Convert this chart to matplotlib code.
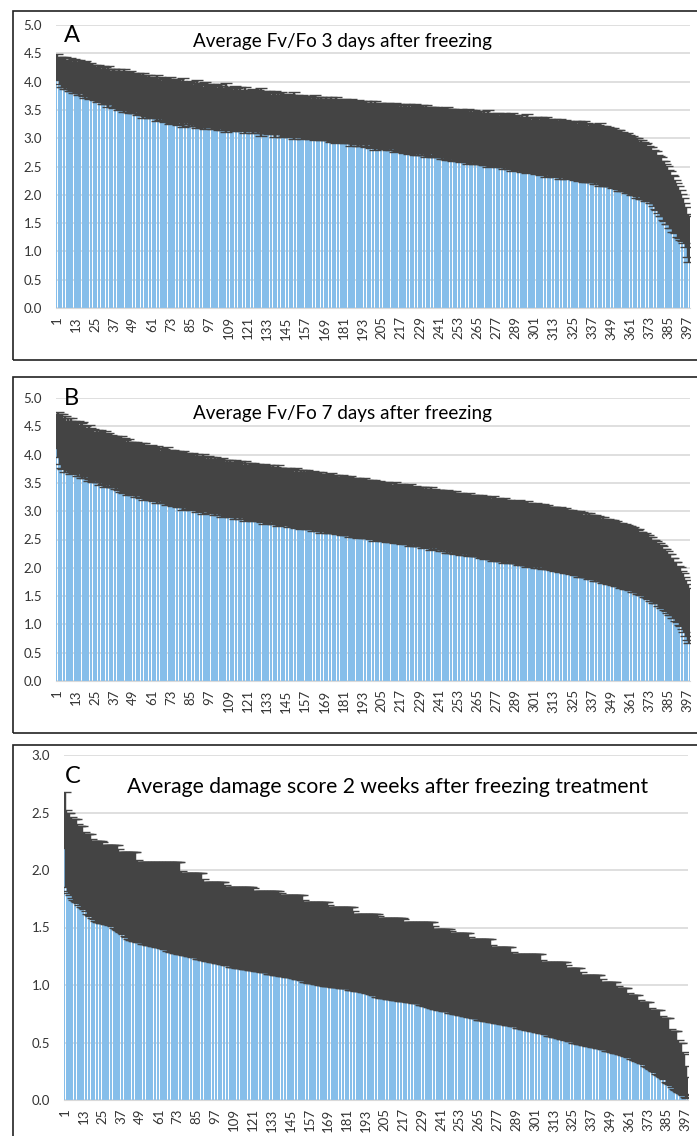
import matplotlib
matplotlib.use('Agg')
import matplotlib.pyplot as plt
import numpy as np
from matplotlib.patches import Rectangle

# ---------------- data ----------------
xtick_labels = [str(v) for v in range(1, 398, 12)]

a_mean = [
 4.27,4.22,4.19,4.17,4.16,4.15,4.14,4.13,4.12,4.11,4.10,4.10,
 4.09,4.08,4.08,4.07,4.06,4.05,4.04,4.03,4.02,4.01,4.00,3.99,
 3.98,3.97,3.97,3.96,3.95,3.94,3.93,3.92,3.92,3.91,3.90,3.89,
 3.88,3.87,3.87,3.86,3.85,3.85,3.84,3.83,3.83,3.82,3.81,3.81,
 3.80,3.79,3.79,3.78,3.77,3.77,3.76,3.75,3.75,3.74,3.73,3.73,
 3.72,3.72,3.71,3.71,3.70,3.70,3.69,3.69,3.68,3.68,3.67,3.67,
 3.66,3.66,3.65,3.65,3.64,3.64,3.63,3.63,3.63,3.62,3.62,3.61,
 3.61,3.61,3.60,3.60,3.60,3.59,3.59,3.59,3.58,3.58,3.58,3.57,
 3.57,3.57,3.56,3.56,3.56,3.55,3.55,3.55,3.54,3.54,3.54,3.53,
 3.53,3.53,3.52,3.52,3.52,3.51,3.51,3.51,3.50,3.50,3.50,3.49,
 3.49,3.49,3.48,3.48,3.48,3.47,3.47,3.47,3.46,3.46,3.46,3.45,
 3.45,3.45,3.44,3.44,3.44,3.43,3.43,3.43,3.42,3.42,3.42,3.41,
 3.41,3.41,3.40,3.40,3.40,3.40,3.39,3.39,3.39,3.38,3.38,3.38,
 3.38,3.37,3.37,3.37,3.36,3.36,3.36,3.35,3.35,3.35,3.34,3.34,
 3.34,3.34,3.33,3.33,3.33,3.32,3.32,3.32,3.31,3.31,3.31,3.30,
 3.30,3.30,3.29,3.29,3.29,3.28,3.28,3.28,3.27,3.27,3.27,3.26,
 3.26,3.26,3.25,3.25,3.25,3.24,3.24,3.24,3.23,3.23,3.23,3.22,
 3.22,3.22,3.21,3.21,3.21,3.20,3.20,3.20,3.19,3.19,3.19,3.18,
 3.18,3.18,3.17,3.17,3.17,3.16,3.16,3.16,3.15,3.15,3.15,3.14,
 3.14,3.14,3.13,3.13,3.13,3.12,3.12,3.12,3.11,3.11,3.11,3.10,
 3.10,3.10,3.09,3.09,3.08,3.08,3.08,3.07,3.07,3.06,3.06,3.06,
 3.05,3.05,3.05,3.04,3.04,3.04,3.03,3.03,3.03,3.02,3.02,3.01,
 3.01,3.01,3.00,3.00,3.00,2.99,2.99,2.99,2.98,2.98,2.98,2.97,
 2.97,2.97,2.96,2.96,2.95,2.95,2.95,2.94,2.94,2.93,2.93,2.93,
 2.92,2.92,2.91,2.91,2.91,2.90,2.90,2.90,2.89,2.89,2.88,2.88,
 2.88,2.87,2.87,2.87,2.86,2.86,2.85,2.85,2.85,2.84,2.84,2.83,
 2.83,2.83,2.82,2.82,2.81,2.81,2.81,2.80,2.80,2.80,2.79,2.79,
 2.79,2.78,2.78,2.77,2.77,2.77,2.76,2.76,2.75,2.75,2.74,2.74,
 2.74,2.73,2.72,2.72,2.71,2.71,2.70,2.69,2.69,2.68,2.67,2.67,
 2.66,2.65,2.64,2.63,2.62,2.61,2.60,2.59,2.58,2.57,2.56,2.55,
 2.53,2.52,2.51,2.50,2.48,2.47,2.46,2.44,2.43,2.41,2.40,2.38,
 2.37,2.35,2.32,2.29,2.26,2.22,2.18,2.14,2.11,2.08,2.04,2.00,
 1.96,1.92,1.88,1.84,1.80,1.76,1.71,1.66,1.61,1.56,1.50,1.43,
 1.28,1.22]

a_err = [
 .22,.20,.24,.27,.25,.28,.23,.26,.29,.27,.25,.30,
 .29,.26,.31,.28,.27,.30,.33,.28,.26,.31,.29,.27,
 .31,.29,.33,.30,.28,.34,.32,.30,.36,.31,.29,.33,
 .35,.32,.30,.36,.33,.31,.38,.34,.32,.35,.37,.33,
 .36,.34,.31,.37,.35,.33,.40,.34,.36,.32,.38,.35,
 .34,.37,.33,.41,.35,.38,.32,.36,.39,.34,.37,.42,
 .39,.35,.37,.33,.40,.36,.38,.44,.35,.37,.34,.39,
 .36,.40,.34,.38,.42,.35,.37,.39,.33,.41,.36,.38,
 .37,.35,.40,.36,.38,.34,.41,.37,.39,.35,.43,.36,
 .35,.38,.36,.34,.40,.37,.35,.39,.33,.36,.41,.35,
 .35,.37,.34,.39,.36,.33,.38,.35,.42,.34,.37,.36,
 .34,.38,.35,.33,.37,.40,.34,.36,.35,.39,.33,.37,
 .35,.33,.38,.36,.34,.41,.35,.37,.33,.36,.39,.34,
 .33,.37,.35,.38,.34,.36,.40,.35,.37,.34,.38,.36,
 .35,.38,.36,.34,.39,.37,.35,.41,.36,.38,.34,.37,
 .36,.39,.35,.38,.37,.42,.36,.38,.35,.40,.37,.39,
 .37,.35,.40,.38,.36,.41,.39,.37,.43,.38,.36,.40,
 .37,.41,.39,.36,.42,.38,.40,.37,.44,.39,.41,.38,
 .40,.38,.43,.41,.39,.44,.40,.42,.38,.45,.41,.43,
 .41,.44,.40,.42,.46,.41,.43,.39,.45,.42,.44,.41,
 .43,.41,.45,.42,.44,.47,.43,.45,.41,.46,.44,.42,
 .45,.43,.47,.44,.42,.46,.49,.44,.46,.43,.48,.45,
 .44,.47,.45,.43,.48,.46,.44,.50,.45,.47,.43,.46,
 .45,.48,.44,.47,.45,.49,.46,.44,.48,.46,.51,.47,
 .46,.49,.47,.45,.50,.48,.46,.52,.47,.49,.45,.48,
 .47,.50,.48,.46,.51,.49,.47,.53,.48,.50,.46,.49,
 .48,.51,.49,.47,.53,.50,.48,.52,.49,.51,.47,.50,
 .49,.52,.50,.48,.53,.51,.49,.54,.50,.52,.48,.51,
 .51,.49,.53,.50,.52,.55,.51,.49,.53,.50,.52,.51,
 .50,.53,.51,.49,.52,.54,.50,.52,.49,.51,.53,.50,
 .50,.52,.49,.51,.53,.50,.48,.52,.50,.49,.51,.48,
 .48,.50,.47,.49,.51,.48,.50,.52,.49,.52,.50,.51,
 .48,.50,.47,.49,.46,.44,.45,.42,.40,.38,.36,.35,
 .38,.40]

b_mean = [
 4.42,4.35,4.28,4.24,4.20,4.19,4.18,4.17,4.16,4.15,4.14,4.13,
 4.12,4.11,4.10,4.09,4.08,4.07,4.05,4.04,4.03,4.02,4.00,3.99,
 3.98,3.97,3.96,3.95,3.94,3.93,3.92,3.92,3.91,3.90,3.89,3.88,
 3.87,3.86,3.85,3.84,3.83,3.82,3.81,3.80,3.79,3.78,3.77,3.76,
 3.75,3.74,3.74,3.73,3.72,3.72,3.71,3.70,3.70,3.69,3.68,3.68,
 3.67,3.66,3.66,3.65,3.65,3.64,3.63,3.63,3.62,3.62,3.61,3.61,
 3.60,3.59,3.59,3.58,3.57,3.57,3.56,3.55,3.55,3.54,3.53,3.53,
 3.52,3.52,3.51,3.51,3.50,3.50,3.49,3.49,3.48,3.48,3.47,3.47,
 3.46,3.46,3.45,3.45,3.44,3.44,3.43,3.43,3.42,3.42,3.41,3.41,
 3.40,3.40,3.39,3.39,3.39,3.38,3.38,3.37,3.37,3.36,3.36,3.36,
 3.35,3.35,3.34,3.34,3.34,3.33,3.33,3.32,3.32,3.31,3.31,3.31,
 3.30,3.30,3.29,3.29,3.29,3.28,3.28,3.27,3.27,3.26,3.26,3.26,
 3.25,3.25,3.24,3.24,3.24,3.23,3.23,3.22,3.22,3.21,3.21,3.21,
 3.20,3.20,3.19,3.19,3.19,3.18,3.18,3.17,3.17,3.16,3.16,3.16,
 3.15,3.15,3.14,3.14,3.14,3.13,3.13,3.12,3.12,3.11,3.11,3.11,
 3.10,3.10,3.09,3.09,3.09,3.08,3.08,3.07,3.07,3.06,3.06,3.06,
 3.05,3.05,3.04,3.04,3.04,3.03,3.03,3.02,3.02,3.01,3.01,3.01,
 3.00,3.00,2.99,2.99,2.99,2.98,2.98,2.97,2.97,2.96,2.96,2.96,
 2.95,2.95,2.94,2.94,2.94,2.93,2.93,2.92,2.92,2.91,2.91,2.91,
 2.90,2.90,2.89,2.89,2.89,2.88,2.88,2.87,2.87,2.86,2.86,2.86,
 2.85,2.84,2.84,2.83,2.83,2.82,2.82,2.81,2.81,2.80,2.80,2.79,
 2.79,2.78,2.78,2.78,2.77,2.77,2.76,2.76,2.75,2.75,2.75,2.74,
 2.74,2.73,2.73,2.72,2.72,2.71,2.71,2.70,2.70,2.69,2.69,2.68,
 2.68,2.68,2.67,2.67,2.66,2.66,2.65,2.65,2.64,2.64,2.64,2.63,
 2.63,2.62,2.62,2.61,2.61,2.61,2.60,2.60,2.59,2.59,2.58,2.58,
 2.58,2.57,2.57,2.56,2.56,2.55,2.55,2.54,2.54,2.53,2.53,2.52,
 2.52,2.51,2.51,2.50,2.50,2.49,2.49,2.48,2.47,2.47,2.46,2.46,
 2.45,2.44,2.44,2.43,2.42,2.42,2.41,2.40,2.40,2.39,2.38,2.38,
 2.37,2.36,2.35,2.35,2.34,2.33,2.32,2.32,2.31,2.30,2.29,2.29,
 2.28,2.27,2.26,2.25,2.24,2.23,2.22,2.22,2.21,2.20,2.19,2.18,
 2.17,2.16,2.15,2.13,2.12,2.11,2.09,2.08,2.06,2.05,2.03,2.02,
 2.00,1.98,1.96,1.94,1.92,1.90,1.88,1.86,1.84,1.82,1.79,1.76,
 1.73,1.70,1.67,1.64,1.61,1.58,1.54,1.50,1.46,1.41,1.35,1.29,
 1.22,1.16]

b_err = [
 .30,.40,.44,.48,.45,.50,.42,.47,.44,.49,.43,.46,
 .45,.48,.43,.47,.50,.44,.46,.42,.49,.45,.43,.47,
 .42,.46,.44,.48,.43,.45,.50,.44,.47,.42,.46,.45,
 .44,.47,.42,.46,.49,.44,.48,.45,.43,.50,.46,.44,
 .47,.44,.49,.45,.43,.48,.46,.50,.44,.47,.45,.49,
 .45,.48,.44,.50,.46,.43,.49,.47,.45,.51,.46,.48,
 .45,.49,.47,.44,.50,.46,.48,.52,.45,.47,.49,.46,
 .46,.50,.47,.45,.51,.48,.46,.49,.53,.47,.45,.50,
 .46,.49,.47,.51,.48,.45,.50,.47,.52,.48,.46,.49,
 .47,.50,.48,.46,.52,.49,.47,.51,.48,.46,.53,.49,
 .47,.50,.48,.52,.49,.47,.51,.48,.46,.50,.53,.49,
 .48,.51,.49,.47,.52,.50,.48,.54,.49,.51,.47,.50,
 .50,.48,.52,.49,.51,.47,.53,.50,.48,.52,.49,.51,
 .50,.52,.48,.51,.49,.53,.50,.48,.52,.50,.54,.49,
 .50,.48,.52,.50,.53,.49,.51,.48,.52,.50,.49,.53,
 .50,.52,.49,.51,.54,.50,.48,.52,.50,.53,.49,.51,
 .50,.53,.49,.51,.48,.52,.50,.54,.51,.49,.52,.50,
 .50,.52,.49,.53,.51,.48,.52,.50,.54,.51,.49,.52,
 .50,.53,.51,.49,.52,.50,.55,.51,.49,.53,.50,.52,
 .52,.50,.54,.51,.53,.49,.52,.55,.51,.53,.50,.52,
 .52,.54,.51,.53,.50,.55,.52,.54,.51,.53,.56,.52,
 .53,.51,.55,.52,.54,.50,.53,.56,.52,.54,.51,.53,
 .54,.52,.55,.53,.51,.56,.54,.52,.55,.53,.57,.54,
 .54,.56,.52,.55,.53,.57,.54,.52,.56,.54,.53,.55,
 .55,.53,.57,.54,.56,.52,.55,.58,.54,.56,.53,.55,
 .55,.57,.54,.56,.53,.58,.55,.54,.57,.55,.53,.56,
 .55,.57,.54,.56,.58,.55,.53,.57,.55,.56,.54,.57,
 .55,.57,.54,.56,.58,.55,.57,.54,.56,.55,.58,.56,
 .56,.54,.58,.55,.57,.56,.54,.58,.56,.55,.57,.56,
 .56,.58,.55,.57,.56,.54,.58,.56,.55,.57,.56,.55,
 .56,.55,.57,.56,.54,.57,.55,.56,.54,.57,.55,.56,
 .55,.57,.54,.56,.55,.53,.56,.54,.55,.52,.54,.53,
 .52,.54,.51,.53,.50,.52,.50,.51,.49,.50,.49,.50,
 .50,.48]

# panel C: lower and upper ends of the error bars
c_low = [
 2.19,1.85,1.82,1.80,1.78,1.76,1.74,1.73,1.72,1.71,1.70,1.68,
 1.67,1.66,1.64,1.62,1.61,1.60,1.58,1.57,1.56,1.55,1.55,1.54,
 1.54,1.54,1.53,1.53,1.53,1.52,1.52,1.51,1.50,1.49,1.48,1.47,
 1.46,1.45,1.44,1.43,1.42,1.40,1.39,1.39,1.38,1.38,1.38,1.37,
 1.37,1.37,1.36,1.36,1.36,1.35,1.35,1.35,1.34,1.34,1.34,1.33,
 1.33,1.33,1.32,1.32,1.31,1.31,1.30,1.30,1.29,1.29,1.28,1.28,
 1.28,1.27,1.27,1.27,1.26,1.26,1.26,1.25,1.25,1.25,1.24,1.24,
 1.24,1.23,1.23,1.23,1.22,1.22,1.22,1.21,1.21,1.21,1.20,1.20,
 1.20,1.19,1.19,1.19,1.18,1.18,1.18,1.17,1.17,1.17,1.16,1.16,
 1.16,1.16,1.15,1.15,1.15,1.15,1.14,1.14,1.14,1.14,1.13,1.13,
 1.13,1.13,1.12,1.12,1.12,1.12,1.11,1.11,1.11,1.11,1.10,1.10,
 1.10,1.10,1.09,1.09,1.09,1.09,1.08,1.08,1.08,1.08,1.07,1.07,
 1.07,1.07,1.06,1.06,1.05,1.05,1.05,1.04,1.04,1.03,1.03,1.03,
 1.02,1.02,1.02,1.02,1.01,1.01,1.01,1.00,1.00,1.00,0.99,0.99,
 0.99,0.99,0.99,0.98,0.98,0.98,0.98,0.98,0.97,0.97,0.97,0.97,
 0.97,0.97,0.96,0.96,0.96,0.96,0.95,0.95,0.95,0.95,0.94,0.94,
 0.94,0.93,0.93,0.92,0.92,0.91,0.91,0.90,0.90,0.90,0.89,0.89,
 0.89,0.89,0.88,0.88,0.88,0.88,0.87,0.87,0.87,0.87,0.86,0.86,
 0.86,0.86,0.86,0.85,0.85,0.85,0.85,0.84,0.84,0.84,0.84,0.83,
 0.83,0.83,0.82,0.82,0.81,0.81,0.80,0.80,0.79,0.79,0.79,0.78,
 0.78,0.78,0.77,0.77,0.77,0.77,0.76,0.76,0.76,0.75,0.75,0.75,
 0.74,0.74,0.74,0.73,0.73,0.73,0.72,0.72,0.72,0.71,0.71,0.71,
 0.70,0.70,0.70,0.70,0.69,0.69,0.69,0.69,0.68,0.68,0.68,0.67,
 0.67,0.67,0.67,0.66,0.66,0.66,0.65,0.65,0.65,0.65,0.64,0.64,
 0.64,0.63,0.63,0.63,0.62,0.62,0.62,0.61,0.61,0.61,0.60,0.60,
 0.60,0.59,0.59,0.59,0.58,0.58,0.58,0.57,0.57,0.56,0.56,0.56,
 0.55,0.55,0.55,0.54,0.54,0.53,0.53,0.53,0.52,0.52,0.51,0.51,
 0.51,0.50,0.50,0.50,0.49,0.49,0.49,0.48,0.48,0.48,0.47,0.47,
 0.47,0.46,0.46,0.46,0.45,0.45,0.45,0.44,0.44,0.44,0.43,0.43,
 0.43,0.42,0.42,0.41,0.41,0.41,0.40,0.40,0.39,0.39,0.38,0.38,
 0.37,0.37,0.36,0.36,0.35,0.34,0.34,0.33,0.32,0.32,0.31,0.30,
 0.29,0.28,0.27,0.26,0.25,0.24,0.23,0.22,0.21,0.20,0.19,0.18,
 0.16,0.15,0.14,0.13,0.11,0.10,0.09,0.08,0.07,0.06,0.05,0.04,
 0.03,0.02]

c_high = [
 2.68,2.52,2.50,2.50,2.46,2.44,2.44,2.44,2.40,2.38,2.38,2.38,
 2.33,2.31,2.31,2.31,2.31,2.27,2.25,2.25,2.25,2.25,2.25,2.25,
 2.24,2.22,2.22,2.22,2.22,2.22,2.22,2.22,2.22,2.22,2.18,2.16,
 2.16,2.16,2.16,2.16,2.16,2.16,2.16,2.16,2.16,2.16,2.09,2.07,
 2.07,2.07,2.07,2.07,2.07,2.07,2.07,2.07,2.07,2.07,2.07,2.07,
 2.07,2.07,2.07,2.07,2.07,2.07,2.07,2.07,2.07,2.07,2.07,2.07,
 2.07,2.07,1.99,1.97,1.97,1.97,1.97,1.97,1.97,1.97,1.97,1.97,
 1.97,1.97,1.97,1.97,1.92,1.90,1.90,1.90,1.90,1.90,1.90,1.90,
 1.90,1.90,1.90,1.90,1.90,1.90,1.87,1.85,1.85,1.85,1.85,1.85,
 1.85,1.85,1.85,1.85,1.85,1.85,1.85,1.85,1.85,1.85,1.85,1.85,
 1.84,1.82,1.82,1.82,1.82,1.82,1.82,1.82,1.82,1.82,1.82,1.82,
 1.82,1.82,1.82,1.82,1.82,1.80,1.78,1.78,1.78,1.78,1.78,1.78,
 1.78,1.78,1.78,1.78,1.78,1.78,1.78,1.78,1.74,1.72,1.72,1.72,
 1.72,1.72,1.72,1.72,1.72,1.72,1.72,1.72,1.72,1.72,1.72,1.72,
 1.70,1.68,1.68,1.68,1.68,1.68,1.68,1.68,1.68,1.68,1.68,1.68,
 1.68,1.68,1.68,1.68,1.64,1.62,1.62,1.62,1.62,1.62,1.62,1.62,
 1.62,1.62,1.62,1.62,1.62,1.62,1.62,1.62,1.60,1.58,1.58,1.58,
 1.58,1.58,1.58,1.58,1.58,1.58,1.58,1.58,1.58,1.58,1.58,1.58,
 1.57,1.55,1.55,1.55,1.55,1.55,1.55,1.55,1.55,1.55,1.55,1.55,
 1.55,1.55,1.55,1.55,1.55,1.55,1.55,1.51,1.49,1.49,1.49,1.49,
 1.49,1.49,1.49,1.49,1.49,1.49,1.47,1.45,1.45,1.45,1.45,1.45,
 1.45,1.45,1.45,1.45,1.45,1.45,1.42,1.40,1.40,1.40,1.40,1.40,
 1.40,1.40,1.40,1.40,1.40,1.40,1.40,1.40,1.35,1.33,1.33,1.33,
 1.33,1.33,1.33,1.33,1.33,1.33,1.33,1.33,1.33,1.29,1.27,1.27,
 1.27,1.27,1.27,1.27,1.27,1.27,1.27,1.27,1.27,1.27,1.27,1.27,
 1.27,1.27,1.27,1.27,1.22,1.20,1.20,1.20,1.20,1.20,1.20,1.20,
 1.20,1.20,1.20,1.20,1.20,1.20,1.20,1.20,1.17,1.15,1.15,1.15,
 1.15,1.15,1.15,1.15,1.15,1.11,1.09,1.09,1.09,1.09,1.09,1.09,
 1.09,1.09,1.09,1.09,1.09,1.09,1.05,1.03,1.03,1.03,1.03,1.03,
 1.03,1.03,1.03,1.03,0.99,0.97,0.97,0.97,0.97,0.97,0.97,0.93,
 0.91,0.91,0.91,0.91,0.91,0.91,0.87,0.85,0.85,0.85,0.85,0.85,
 0.85,0.80,0.78,0.78,0.78,0.78,0.78,0.78,0.73,0.71,0.71,0.71,
 0.71,0.71,0.62,0.60,0.60,0.60,0.60,0.52,0.50,0.50,0.42,0.40,
 0.30,0.20]

titles = ["Average Fv/Fo 3 days after freezing",
          "Average Fv/Fo 7 days after freezing",
          "Average damage score 2 weeks after freezing treatment"]
letters = ["A", "B", "C"]

# ---------------- drawing ----------------
plt.rcParams['font.family'] = ['Lato', 'DejaVu Sans']
W, H = 697, 1136
fig = plt.figure(figsize=(W / 100, H / 100), dpi=100)
fig.patch.set_facecolor('white')

BAR = '#86BEEA'
ERR = '#444444'
GRID = '#D9D9D9'
TXT = '#333333'


def ax_at(l, r, t, b):
    return fig.add_axes([l / W, 1 - b / H, (r - l) / W, (b - t) / H])


def panel(ax, mean, err, ymax):
    mean = np.asarray(mean)
    err = np.asarray(err)
    n = len(mean)
    x = np.arange(n)
    ax.bar(x, mean, width=0.8, color=BAR, edgecolor='none', zorder=2)
    ax.errorbar(x, mean, yerr=err, fmt='none', ecolor=ERR, elinewidth=1.75,
                capsize=4.5, capthick=1.0, zorder=3)
    ax.set_xlim(-0.5, n - 0.5)
    ax.set_ylim(0, ymax)
    yt = np.arange(0, ymax + 0.01, 0.5)
    ax.set_yticks(yt)
    ax.set_yticklabels([f'{v:.1f}' for v in yt])
    ax.set_xticks([int(t) - 1 for t in xtick_labels])
    ax.set_xticklabels(xtick_labels, rotation=90)
    ax.grid(axis='y', color=GRID, lw=1.2, zorder=0)
    ax.set_axisbelow(True)
    for s in ['top', 'right', 'left']:
        ax.spines[s].set_visible(False)
    ax.spines['bottom'].set_color(GRID)
    ax.tick_params(length=0, labelsize=9.5, colors=TXT)
    ax.tick_params(axis='y', pad=10)
    ax.tick_params(axis='x', pad=6)
    ax.patch.set_alpha(0)


# frames
for (t, b) in [(11, 360), (377, 733), (745, 1150)]:
    fig.add_artist(Rectangle((13 / W, 1 - b / H), (720 - 13) / W, (b - t) / H,
                             transform=fig.transFigure, fill=False,
                             ec='#222222', lw=1.2))

axA = ax_at(56, 690, 25, 308)
panel(axA, a_mean, a_err, 5.0)
axB = ax_at(56, 690, 398, 681)
panel(axB, b_mean, b_err, 5.0)

c_low_a = np.asarray(c_low)
c_high_a = np.asarray(c_high)
axC = ax_at(64, 688, 755, 1100)
panel(axC, (c_low_a + c_high_a) / 2, (c_high_a - c_low_a) / 2, 3.0)

# letters and titles
for (lx, ly, tx, ty, i, fs) in [(64, 42, 193, 47, 0, 13.6), (64, 405, 193, 419, 1, 13.6),
                                (65, 783, 127, 793, 2, 15.2)]:
    fig.text(lx / W, 1 - ly / H, letters[i], fontsize=17, color='black', va='baseline', ha='left')
    fig.text(tx / W, 1 - ty / H, titles[i], fontsize=fs, color='black', va='baseline', ha='left')

fig.savefig('out.png', dpi=100, facecolor='white')
